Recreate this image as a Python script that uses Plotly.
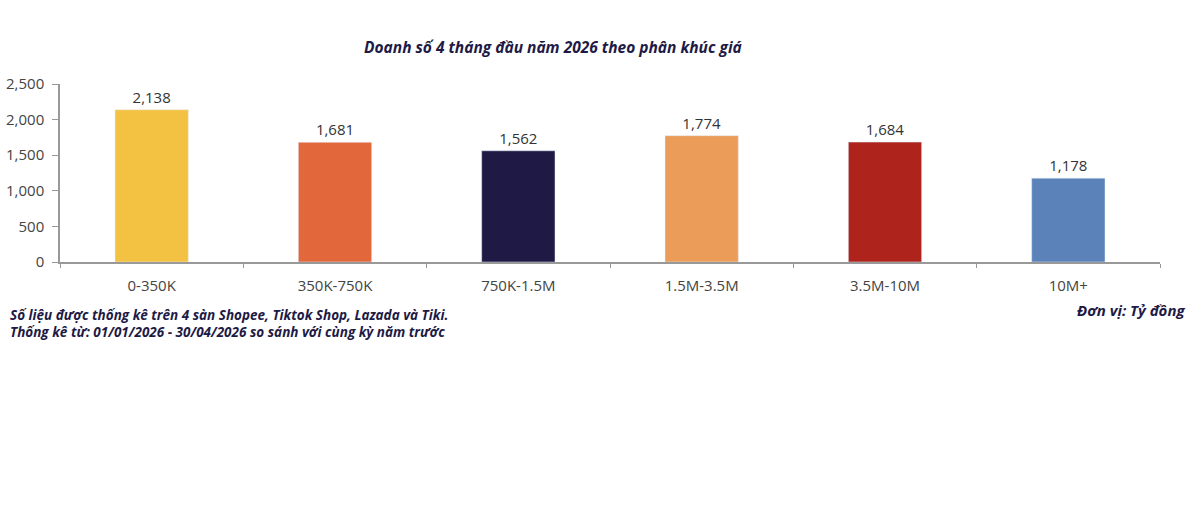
import plotly.graph_objects as go

categories = ["0-350K", "350K-750K", "750K-1.5M", "1.5M-3.5M", "3.5M-10M", "10M+"]
values = [2138, 1681, 1562, 1774, 1684, 1178]
colors = ["#F4C242", "#E2673A", "#1E1A45", "#EB9C58", "#AE241D", "#5B83BA"]
y_ticks = [0, 500, 1000, 1500, 2000, 2500]

title = "Doanh số 4 tháng đầu năm 2026 theo phân khúc giá"
note1 = "Số liệu được thống kê trên 4 sàn Shopee, Tiktok Shop, Lazada và Tiki."
note2 = "Thống kê từ: 01/01/2026 - 30/04/2026 so sánh với cùng kỳ năm trước"
unit = "Đơn vị: Tỷ đồng"

fig = go.Figure(go.Bar(
    x=categories, y=values, marker_color=colors, width=0.4,
    text=[f"{v:,}" for v in values], textposition="outside",
    textfont=dict(family="Open Sans", size=15, color="#333333"),
    cliponaxis=False,
))

fig.update_layout(
    width=1200, height=526,
    margin=dict(l=60, r=40, t=84, b=264, autoexpand=False),
    plot_bgcolor="white", paper_bgcolor="white",
    showlegend=False,
    font=dict(family="Open Sans", size=15, color="#444444"),
    xaxis=dict(showline=True, linecolor="#999999", linewidth=1.5,
               ticks="outside", tickson="boundaries", ticklen=4, tickcolor="#999999",
               ticklabelstandoff=9, automargin=False,
               tickfont=dict(size=15, color="#444444")),
    yaxis=dict(range=[0, 2500], tickvals=y_ticks, tickformat=",",
               showline=True, linecolor="#999999", linewidth=1.5,
               ticks="outside", ticklen=6, tickcolor="#999999",
               ticklabelstandoff=5, automargin=False,
               showgrid=False, zeroline=False,
               tickfont=dict(size=15, color="#444444")),
)

navy = "#1E1A45"
pw, ph = 1200 - 60 - 40, 526 - 84 - 264
def px(x): return (x - 60) / pw
def py(y): return (526 - 264 - y) / ph

anns = [
    dict(text=f"<b><i>{title}</i></b>", x=553, y=47, xanchor="center", size=15.5),
    dict(text=f"<b><i>{note1}</i></b>", x=8, y=315, xanchor="left", size=13.5),
    dict(text=f"<b><i>{note2}</i></b>", x=8, y=332, xanchor="left", size=13.5),
    dict(text=f"<b><i>{unit}</i></b>", x=1187, y=310, xanchor="right", size=15),
]
for a in anns:
    fig.add_annotation(text=a["text"], x=px(a["x"]), y=py(a["y"]), xref="paper", yref="paper",
                       xanchor=a["xanchor"], yanchor="middle", showarrow=False,
                       font=dict(family="Open Sans", size=a["size"], color=navy))

fig.write_html("out.html")
